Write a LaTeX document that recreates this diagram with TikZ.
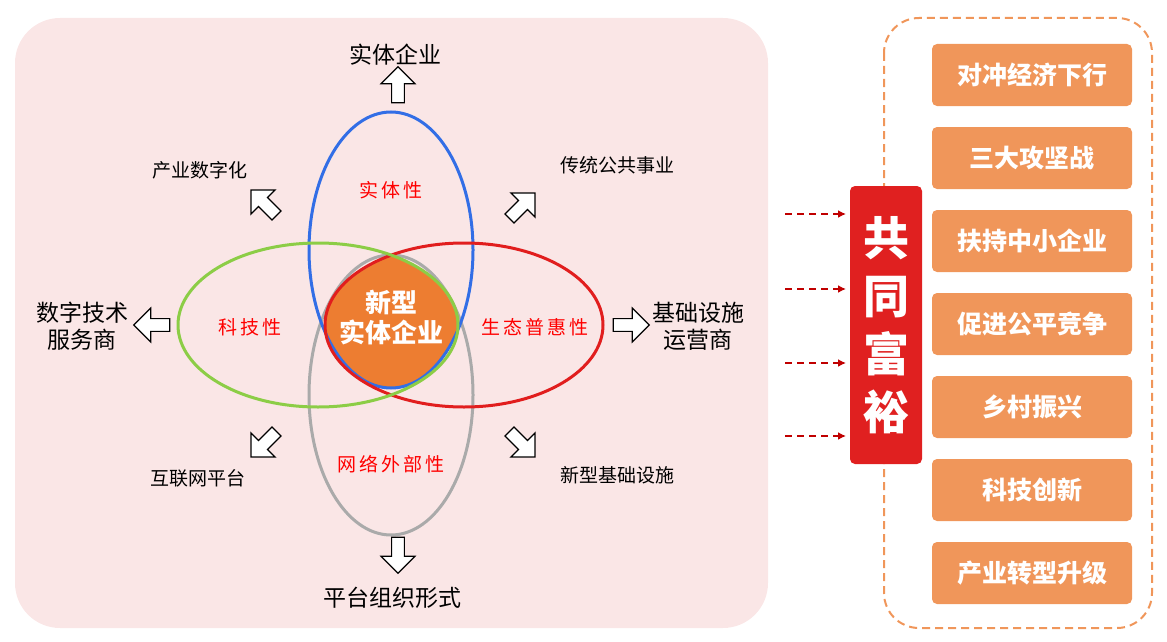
\documentclass[tikz,border=0pt]{standalone}
\usepackage{fontspec}
\setmainfont{Noto Sans CJK SC}
\usetikzlibrary{shapes.arrows,arrows.meta,positioning}
\definecolor{bgpink}{RGB}{250,230,230}
\definecolor{boxorange}{RGB}{240,150,90}
\definecolor{coreorange}{RGB}{237,125,49}
\definecolor{fuered}{RGB}{224,32,32}
\definecolor{dashred}{RGB}{192,0,0}
\definecolor{ringblue}{RGB}{50,110,230}
\definecolor{ringgreen}{RGB}{140,205,70}
\definecolor{ringred}{RGB}{225,30,30}
\definecolor{ringgray}{RGB}{170,170,170}
\begin{document}
\begin{tikzpicture}[x=1pt,y=-1pt,
    blockarrow/.style={single arrow, draw, fill=white, line width=1.2pt, minimum height=36pt, minimum width=34pt, single arrow head extend=6pt, inner sep=3pt},
    goalbox/.style={rectangle, fill=boxorange, rounded corners=5pt, minimum width=200pt, minimum height=62pt, text=white, font=\bfseries\fontsize{25}{28}\selectfont},
    trait/.style={text=red, font=\fontsize{19}{22}\selectfont},
    outer/.style={font=\fontsize{23}{26}\selectfont, align=center},
    minor/.style={font=\fontsize{19}{22}\selectfont}]
    \useasboundingbox (0,0) rectangle (1167,642);
    % panels
    \fill[bgpink, rounded corners=45pt] (15,18) rectangle (768,628);
    \draw[boxorange, line width=2pt, dash pattern=on 8pt off 5pt, rounded corners=35pt] (884,18) rectangle (1152,628);

    % core region
    \begin{scope}
        \clip (391,250) ellipse [x radius=82, y radius=138];
        \clip (391,395) ellipse [x radius=82, y radius=140];
        \clip (318,325) ellipse [x radius=140, y radius=82];
        \clip (464,325) ellipse [x radius=139, y radius=82];
        \fill[coreorange] (200,150) rectangle (600,500);
    \end{scope}
    % ellipses
    \draw[ringgray, line width=3pt] (391,395) ellipse [x radius=82, y radius=140];
    \draw[ringblue, line width=3pt] (391,250) ellipse [x radius=82, y radius=138];
    \draw[ringred, line width=3pt] (464,325) ellipse [x radius=139, y radius=82];
    \draw[ringgreen, line width=3pt] (318,325) ellipse [x radius=140, y radius=82];

    \node[text=white, font=\bfseries\fontsize{26}{30}\selectfont, align=center] (core) at (391,318) {新型\\实体企业};
    \node[trait] (shiti) at (391,190) {实\,体\,性};
    \node[trait] (keji) at (250,327) {科\,技\,性};
    \node[trait] (shengtai) at (535,327) {生\,态\,普\,惠\,性};
    \node[trait] (wangluo) at (391,464) {网\,络\,外\,部\,性};

    % block arrows
    \node[blockarrow, rotate=90] (aup) at (398,88) {};
    \node[blockarrow, rotate=-90] (adown) at (398,552) {};
    \node[blockarrow, rotate=180] (aleft) at (155,325) {};
    \node[blockarrow] (aright) at (628,325) {};
    \node[blockarrow, rotate=135] (aul) at (266,205) {};
    \node[blockarrow, rotate=45] (aur) at (520,208) {};
    \node[blockarrow, rotate=-135] (adl) at (266,442) {};
    \node[blockarrow, rotate=-45] (adr) at (520,442) {};

    % outer labels
    \node[outer] (lup) at (395,55) {实体企业};
    \node[outer] (ldown) at (392,598) {平台组织形式};
    \node[outer, font=\fontsize{23}{27}\selectfont] (lleft) at (82,326) {数字技术\\服务商};
    \node[outer, font=\fontsize{23}{27}\selectfont] (lright) at (698,326) {基础设施\\运营商};
    \node[minor] (lul) at (200,170) {产业数字化};
    \node[minor] (lur) at (617,165) {传统公共事业};
    \node[minor] (ldl) at (198,478) {互联网平台};
    \node[minor] (ldr) at (617,475) {新型基础设施};

    % common prosperity
    \node[fill=fuered, rounded corners=5pt, minimum width=72pt, minimum height=278pt, text=white, align=center, font=\bfseries\fontsize{46}{58}\selectfont] (fuyu) at (886,325) {共\\同\\富\\裕};
    \foreach \y in {214,289,363,436}
        \draw[dashred, line width=2pt, dash pattern=on 7pt off 5pt, -{Latex[length=8pt,width=8pt]}] (785,\y) -- (846,\y);

    % goals
    \foreach \t [count=\i] in {对冲经济下行,三大攻坚战,扶持中小企业,促进公平竞争,乡村振兴,科技创新,产业转型升级}
        \node[goalbox] (goal\i) at (1032,75+83*\i-83) {\t};
\end{tikzpicture}
\end{document}
